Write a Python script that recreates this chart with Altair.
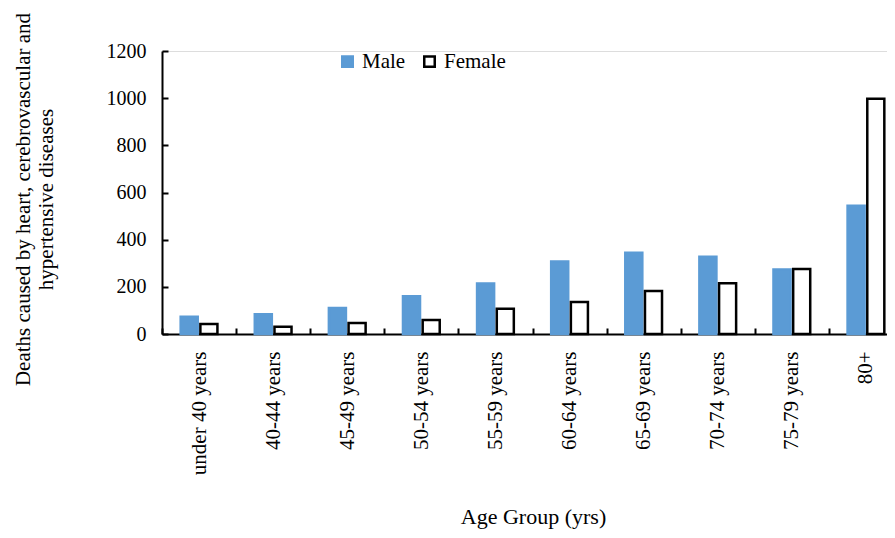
import altair as alt
import pandas as pd

groups = ["under 40 years", "40-44 years", "45-49 years", "50-54 years", "55-59 years",
          "60-64 years", "65-69 years", "70-74 years", "75-79 years", "80+"]
male = [73, 84, 110, 160, 214, 307, 345, 328, 274, 544]
female = [42, 31, 47, 59, 107, 136, 182, 215, 276, 997]
y_ticks = [0, 200, 400, 600, 800, 1000, 1200]

rows = []
for g, m, f in zip(groups, male, female):
    rows.append({"Age": g, "Sex": "Male", "Deaths": m})
    rows.append({"Age": g, "Sex": "Female", "Deaths": f})
df = pd.DataFrame(rows)

FONT = "Liberation Serif"
sex_order = ["Male", "Female"]
W, H = 741, 283

xenc = alt.X("Age:N", sort=groups,
             scale=alt.Scale(paddingInner=0, paddingOuter=0),
             axis=alt.Axis(title="Age Group (yrs)", labelAngle=-90, tickSize=0,
                           labelPadding=17, titlePadding=32, domainColor="black",
                           domainWidth=2, labelColor="black", titleColor="black",
                           labelFont=FONT, titleFont=FONT, labelFontSize=21,
                           titleFontSize=22, titleFontWeight="normal",
                           grid=True, tickBand="extent", gridColor="black",
                           gridWidth=2, gridOpacity=1, gridDash=[0, H - 6, 6, 2000],
                           titleX=371))
yenc = alt.Y("Deaths:Q", scale=alt.Scale(domain=[0, 1200]),
             axis=alt.Axis(title=["Deaths caused by heart, cerebrovascular and",
                                  "hypertensive diseases"],
                           values=y_ticks, format="d", tickSize=0,
                           labelPadding=16, titlePadding=50, domainColor="black",
                           domainWidth=2, labelColor="black", titleColor="black",
                           labelFont=FONT, titleFont=FONT, labelFontSize=20,
                           titleFontSize=21, titleFontWeight="normal", titleY=148,
                           grid=True, gridColor="black", gridWidth=2, gridOpacity=1,
                           gridDash=[6, W - 12, 6, 2000]))
xoff = alt.XOffset("Sex:N", sort=sex_order,
                   scale=alt.Scale(domain=sex_order, paddingInner=0.135, paddingOuter=0.948))

leg = alt.Legend(title=None, orient="none", legendX=175, legendY=0,
                 direction="horizontal", symbolType="square",
                 symbolSize=110, symbolStrokeWidth=2.5,
                 labelFont=FONT, labelFontSize=21, labelColor="black",
                 columnPadding=13, labelOffset=4)

chart = alt.Chart(df).mark_bar(strokeWidth=2.5).encode(
    x=xenc,
    xOffset=xoff,
    y=yenc,
    fill=alt.Fill("Sex:N", sort=sex_order,
                  scale=alt.Scale(domain=sex_order, range=["#5B9BD5", "#ffffff"]),
                  legend=leg),
    stroke=alt.Stroke("Sex:N", sort=sex_order,
                      scale=alt.Scale(domain=sex_order, range=["#5B9BD5", "#000000"]),
                      legend=leg),
).properties(
    width=W, height=H,
    autosize=alt.AutoSizeParams(type="none"),
    padding={"left": 154, "top": 43, "right": -16, "bottom": 196},
).configure_view(stroke=None).configure(background="white")

chart.save("out.html", embed_options={"renderer": "svg", "actions": False})
